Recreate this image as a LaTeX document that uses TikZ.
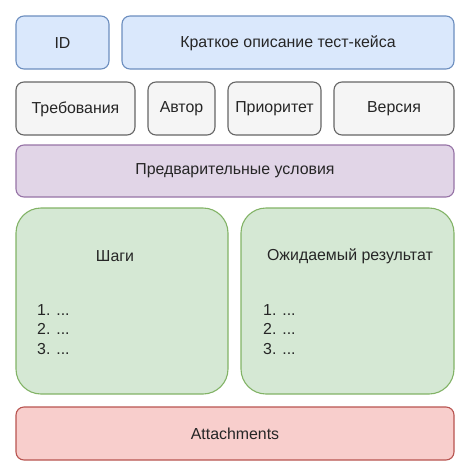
\documentclass[tikz,border=0pt]{standalone}
\usepackage{fontspec}
\setmainfont{Liberation Sans}
\definecolor{bfill}{HTML}{DAE8FC}\definecolor{bdraw}{HTML}{6C8EBF}
\definecolor{gfill}{HTML}{F5F5F5}\definecolor{gdraw}{HTML}{666666}
\definecolor{pfill}{HTML}{E1D5E7}\definecolor{pdraw}{HTML}{9673A6}
\definecolor{nfill}{HTML}{D5E8D4}\definecolor{ndraw}{HTML}{82B366}
\definecolor{rfill}{HTML}{F8CECC}\definecolor{rdraw}{HTML}{B85450}
\begin{document}
\begin{tikzpicture}[x=1pt,y=-1pt,
  box/.style={line width=1.1pt,rounded corners=8pt},
  lbl/.style={font=\fontsize{15.9}{19}\selectfont,text=black!85,inner sep=0pt},
  lst/.style={font=\fontsize{15.9}{19.5}\selectfont,text=black!85,inner sep=0pt,align=left,anchor=north west}]
\useasboundingbox (0,0) rectangle (474,475);
\draw[box,fill=bfill,draw=bdraw] (16,16) rectangle (109,69);
\node[lbl] (id) at (62.5,43) {ID};
\draw[box,fill=bfill,draw=bdraw] (122,16) rectangle (454,69);
\node[lbl] (desc) at (288,43) {Краткое описание тест-кейса};
\draw[box,fill=gfill,draw=gdraw] (16,82) rectangle (135,135);
\node[lbl] (req) at (75.5,109) {Требования};
\draw[box,fill=gfill,draw=gdraw] (148,82) rectangle (215,135);
\node[lbl] (auth) at (181.5,109) {Автор};
\draw[box,fill=gfill,draw=gdraw] (228,82) rectangle (321,135);
\node[lbl] (prio) at (274.5,109) {Приоритет};
\draw[box,fill=gfill,draw=gdraw] (334,82) rectangle (454,135);
\node[lbl] (ver) at (394,109) {Версия};
\draw[box,fill=pfill,draw=pdraw] (16,145) rectangle (454,197);
\node[lbl] (pre) at (235,171) {Предварительные условия};
\draw[box,fill=nfill,draw=ndraw,rounded corners=25pt] (16,208) rectangle (228,394);
\node[lbl] (steps) at (115,256) {Шаги};
\node[lst] (slist) at (37,304) {1. ...\\2. ...\\3. ...};
\draw[box,fill=nfill,draw=ndraw,rounded corners=25pt] (241,208) rectangle (454,394);
\node[lbl] (exp) at (350,256) {Ожидаемый результат};
\node[lst] (elist) at (263,304) {1. ...\\2. ...\\3. ...};
\draw[box,fill=rfill,draw=rdraw] (16,407) rectangle (454,460);
\node[lbl] (att) at (235,434) {Attachments};
\end{tikzpicture}
\end{document}
